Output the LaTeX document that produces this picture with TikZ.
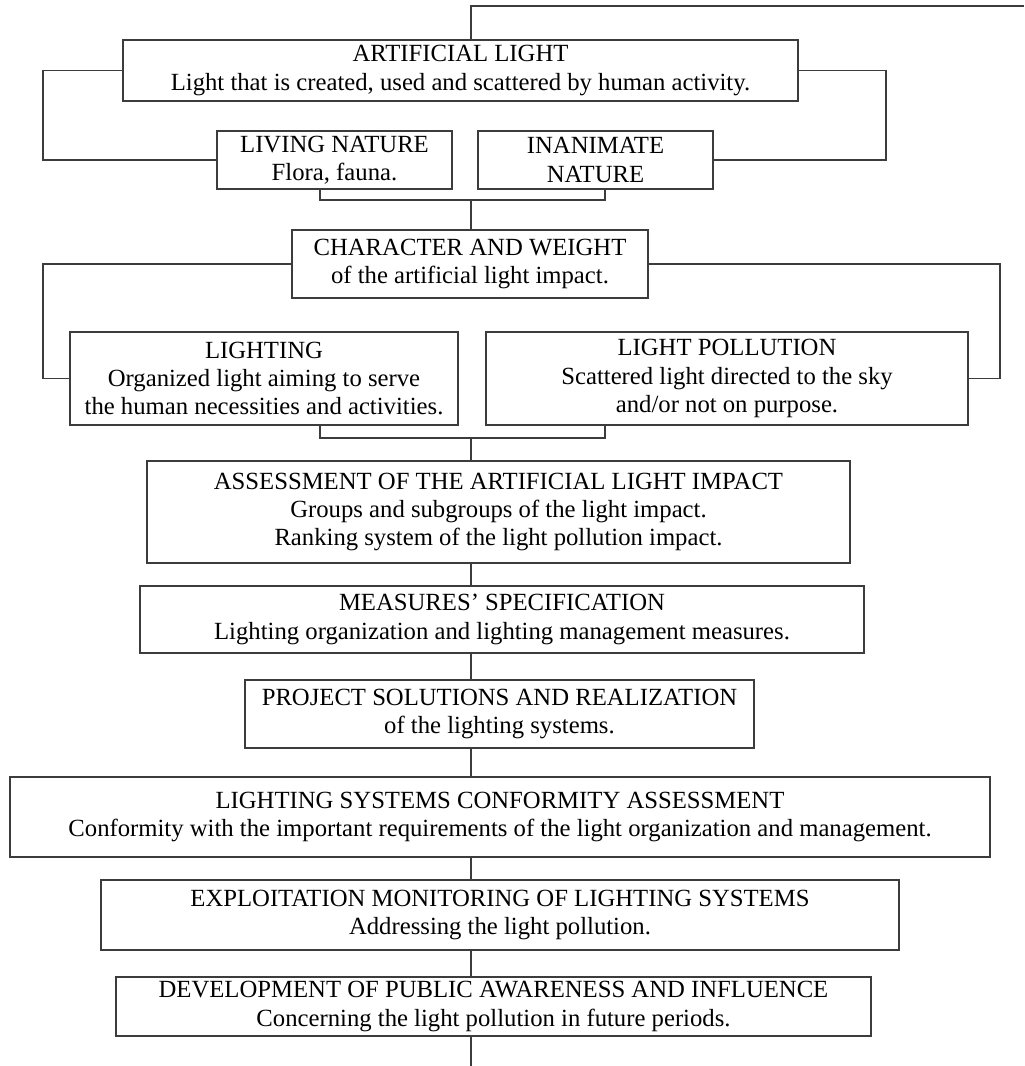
\documentclass[tikz,border=0pt]{standalone}
\usepackage{fontspec}
\setmainfont{Liberation Serif}
\usepackage{tikz}
\usetikzlibrary{positioning, calc}
\definecolor{lineColor}{RGB}{60, 60, 60}

\begin{document}
\begin{tikzpicture}[
        x=0.5pt, y=-0.5pt,
        box/.style={rectangle, draw=lineColor, fill=white, line width=0.6pt, align=center, inner sep=0pt, font=\fontsize{12.35}{14.2}\selectfont},
        line/.style={draw=lineColor, line width=0.6pt}
    ]
    \useasboundingbox (0,0) rectangle (1024,1066);
    % Nodes
    \node (art) [box, minimum width=337.5pt, minimum height=30.5pt] at (460.5,70.5) {ARTIFICIAL LIGHT\\Light that is created, used and scattered by human activity.};
    \node (living) [box, minimum width=117.5pt, minimum height=29pt] at (334.5,160) {LIVING NATURE\\Flora, fauna.};
    \node (inanimate) [box, minimum width=117.5pt, minimum height=29pt] at (595.5,160) {INANIMATE\\NATURE};
    \node (char) [box, minimum width=178pt, minimum height=34pt] at (470,264) {CHARACTER AND WEIGHT\\of the artificial light impact.};
    \node (lighting) [box, minimum width=194pt, minimum height=46.5pt] at (264,378.5) {LIGHTING\\Organized light aiming to serve\\the human necessities and activities.};
    \node (pollution) [box, minimum width=241pt, minimum height=46.5pt] at (727,378.5) {LIGHT POLLUTION\\Scattered light directed to the sky\\and/or not on purpose.};
    \node (assess) [box, minimum width=351.5pt, minimum height=51pt] at (498.5,512) {ASSESSMENT OF THE ARTIFICIAL LIGHT IMPACT\\Groups and subgroups of the light impact.\\Ranking system of the light pollution impact.};
    \node (measures) [box, minimum width=362pt, minimum height=33.5pt] at (502,619.5) {MEASURES' SPECIFICATION\\Lighting organization and lighting management measures.};
    \node (project) [box, minimum width=254.5pt, minimum height=34pt] at (499.5,714) {PROJECT SOLUTIONS AND REALIZATION\\of the lighting systems.};
    \node (conform) [box, minimum width=490pt, minimum height=40pt] at (500,817) {LIGHTING SYSTEMS CONFORMITY ASSESSMENT\\Conformity with the important requirements of the light organization and management.};
    \node (exploit) [box, minimum width=399pt, minimum height=35pt] at (500,915) {EXPLOITATION MONITORING OF LIGHTING SYSTEMS\\Addressing the light pollution.};
    \node (develop) [box, minimum width=377.5pt, minimum height=29.5pt] at (493.5,1006.5) {DEVELOPMENT OF PUBLIC AWARENESS AND INFLUENCE\\Concerning the light pollution in future periods.};

    % Helper points
    \coordinate (spine) at (471,0);
    \coordinate (topend) at (1024,6);
    \coordinate (bottomend) at (471,1066);
    \coordinate (leftA) at (43,0);
    \coordinate (rightA) at (886,0);
    \coordinate (rightB) at (1000,0);
    \coordinate (bl1) at (320,200);
    \coordinate (br1) at (605,200);
    \coordinate (brk1) at (471,200);
    \coordinate (bl2) at (320,438);
    \coordinate (br2) at (605,438);
    \coordinate (brk2) at (471,438);

    % Connectors
    \path [line] (art.north -| spine) -- (spine |- topend) -- (topend);
    \path [line] (art.west) -- (art.west -| leftA) |- (living.west);
    \path [line] (art.east) -- (art.east -| rightA) |- (inanimate.east);
    \path [line] (living.south -| bl1) -- (bl1) -- (br1) -- (inanimate.south -| br1);
    \path [line] (brk1) -- (char.north -| brk1);
    \path [line] (char.west) -- (char.west -| leftA) |- (lighting.west);
    \path [line] (char.east) -- (char.east -| rightB) |- (pollution.east);
    \path [line] (lighting.south -| bl2) -- (bl2) -- (br2) -- (pollution.south -| br2);
    \path [line] (brk2) -- (assess.north -| brk2);
    \path [line] (assess.south -| spine) -- (measures.north -| spine);
    \path [line] (measures.south -| spine) -- (project.north -| spine);
    \path [line] (project.south -| spine) -- (conform.north -| spine);
    \path [line] (conform.south -| spine) -- (exploit.north -| spine);
    \path [line] (exploit.south -| spine) -- (develop.north -| spine);
    \path [line] (develop.south -| spine) -- (bottomend);
\end{tikzpicture}
\end{document}
